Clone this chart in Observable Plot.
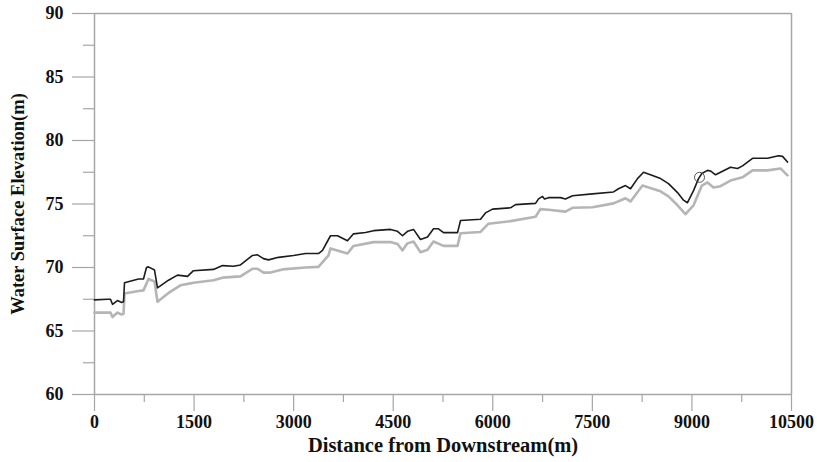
<!DOCTYPE html>
<html>
<head>
<meta charset="utf-8">
<script src="https://cdn.jsdelivr.net/npm/d3@7"></script>
<script src="https://cdn.jsdelivr.net/npm/@observablehq/plot@0.6"></script>
<style>
  html, body { margin: 0; padding: 0; background: #fff; }
  #chart svg { display: block; }
</style>
</head>
<body>
<div id="chart"></div>
<script>
// Upper (black) water surface profile
const upperDist = [0, 196, 241, 271, 346, 407, 437, 452, 663, 738, 783, 813, 904, 949, 1115, 1250, 1401, 1491, 1793, 1928, 2094, 2199, 2380, 2456, 2546, 2621, 2772, 2998, 3179, 3374, 3435, 3555, 3661, 3811, 3902, 4083, 4203, 4459, 4565, 4640, 4715, 4806, 4911, 5017, 5107, 5182, 5258, 5469, 5514, 5815, 5890, 5996, 6267, 6342, 6644, 6689, 6749, 6779, 6839, 7020, 7095, 7201, 7502, 7819, 7894, 7999, 8075, 8180, 8271, 8406, 8527, 8647, 8783, 8873, 8933, 9024, 9099, 9150, 9235, 9280, 9355, 9431, 9581, 9687, 9762, 9913, 10139, 10304, 10365, 10440];
const upperElev = [67.45, 67.5, 67.5, 67.1, 67.4, 67.25, 67.3, 68.8, 69.1, 69.1, 70.0, 70.05, 69.8, 68.4, 69.0, 69.4, 69.3, 69.75, 69.85, 70.15, 70.1, 70.2, 70.95, 71.0, 70.7, 70.6, 70.8, 70.95, 71.1, 71.1, 71.35, 72.5, 72.5, 72.1, 72.65, 72.75, 72.9, 73.0, 72.85, 72.5, 72.85, 73.0, 72.2, 72.4, 73.05, 73.05, 72.75, 72.75, 73.7, 73.8, 74.3, 74.6, 74.7, 74.95, 75.05, 75.4, 75.6, 75.4, 75.5, 75.5, 75.4, 75.65, 75.8, 75.95, 76.2, 76.45, 76.2, 77.0, 77.5, 77.25, 77.0, 76.6, 75.9, 75.3, 75.1, 76.05, 77.0, 77.4, 77.65, 77.6, 77.3, 77.5, 77.9, 77.8, 78.0, 78.6, 78.6, 78.8, 78.75, 78.3];

// Lower (grey) water surface profile
const lowerDist = [0, 196, 241, 271, 346, 407, 437, 452, 663, 738, 813, 904, 949, 1115, 1295, 1446, 1491, 1793, 1928, 2199, 2380, 2456, 2546, 2651, 2832, 3179, 3374, 3525, 3555, 3811, 3902, 4203, 4459, 4565, 4640, 4715, 4806, 4911, 5017, 5107, 5258, 5469, 5514, 5815, 5935, 6267, 6644, 6719, 6839, 7095, 7201, 7502, 7819, 7999, 8075, 8255, 8406, 8527, 8647, 8783, 8903, 9024, 9150, 9235, 9325, 9431, 9581, 9762, 9913, 10139, 10334, 10440];
const lowerElev = [66.45, 66.45, 66.45, 66.1, 66.45, 66.3, 66.35, 67.95, 68.15, 68.2, 69.1, 68.9, 67.3, 68.0, 68.6, 68.75, 68.8, 69.0, 69.2, 69.3, 69.9, 69.9, 69.6, 69.6, 69.85, 70.0, 70.05, 70.95, 71.5, 71.1, 71.7, 72.0, 72.0, 71.85, 71.35, 71.9, 72.05, 71.2, 71.4, 72.05, 71.7, 71.7, 72.7, 72.8, 73.45, 73.65, 74.0, 74.6, 74.55, 74.4, 74.7, 74.75, 75.05, 75.45, 75.2, 76.45, 76.2, 76.0, 75.6, 74.9, 74.2, 74.9, 76.45, 76.7, 76.3, 76.4, 76.85, 77.1, 77.65, 77.65, 77.8, 77.25];

// Circle marker
const markerDist = [9114];
const markerElev = [77.1];

// Ticks
const xMajorTicks = [0, 1500, 3000, 4500, 6000, 7500, 9000, 10500];
const xMinorTicks = [750, 2250, 3750, 5250, 6750, 8250, 9750];
const yMajorTicks = [60, 65, 70, 75, 80, 85, 90];
const yMinorTicks = [62.5, 67.5, 72.5, 77.5, 82.5, 87.5];

const xTitle = "Distance from Downstream(m)";
const yTitle = "Water Surface Elevation(m)";

const upper = upperDist.map((d, i) => ({d, e: upperElev[i]}));
const lower = lowerDist.map((d, i) => ({d, e: lowerElev[i]}));
const marker = markerDist.map((d, i) => ({d, e: markerElev[i]}));

const axisGray = "#a6a6a6";
const font = "'Liberation Serif', 'Times New Roman', serif";

const chart = Plot.plot({
  width: 817,
  height: 462,
  marginLeft: 94,
  marginRight: 26,
  marginTop: 13,
  marginBottom: 68,
  style: {fontFamily: font, background: "#fff", overflow: "visible"},
  x: {domain: [0, 10500]},
  y: {domain: [60, 90]},
  marks: [
    // frame top & right
    Plot.ruleY([90], {stroke: axisGray, strokeWidth: 1.5}),
    Plot.ruleX([10500], {stroke: axisGray, strokeWidth: 1.5}),
    // axis lines
    Plot.ruleY([60], {stroke: axisGray, strokeWidth: 1.5}),
    Plot.ruleX([0], {stroke: axisGray, strokeWidth: 1.5}),
    Plot.axisY(yMajorTicks, {tickSize: 22, tickPadding: 9, stroke: axisGray, strokeWidth: 1.2, fill: "#111", fontSize: 18, fontWeight: "bold", tickFormat: d => String(d), label: null}),
    Plot.axisY(yMinorTicks, {tickSize: 11, stroke: axisGray, strokeWidth: 1.2, tickFormat: () => "", label: null}),
    Plot.axisX(xMajorTicks, {tickSize: 17, tickPadding: 4, stroke: axisGray, strokeWidth: 1.2, fill: "#111", fontSize: 18, fontWeight: "bold", tickFormat: d => String(d), label: null}),
    Plot.axisX(xMinorTicks, {tickSize: 8, stroke: axisGray, strokeWidth: 1.2, tickFormat: () => "", label: null}),
    Plot.text([yTitle], {frameAnchor: "left", textAnchor: "middle", rotate: -90, dx: -76, fontSize: 18.5, fontWeight: "bold", fill: "#111"}),
    Plot.text([xTitle], {frameAnchor: "bottom", textAnchor: "middle", dy: 57, fontSize: 20.5, fontWeight: "bold", fill: "#111"}),
    Plot.line(lower, {x: "d", y: "e", stroke: "#b5b5b5", strokeWidth: 2.6, curve: "linear"}),
    Plot.line(upper, {x: "d", y: "e", stroke: "#1c1c1c", strokeWidth: 1.6, curve: "linear"}),
    Plot.dot(marker, {x: "d", y: "e", r: 5, stroke: "#555", strokeWidth: 1, fill: "none"})
  ]
});
document.getElementById("chart").appendChild(chart);
</script>
</body>
</html>
